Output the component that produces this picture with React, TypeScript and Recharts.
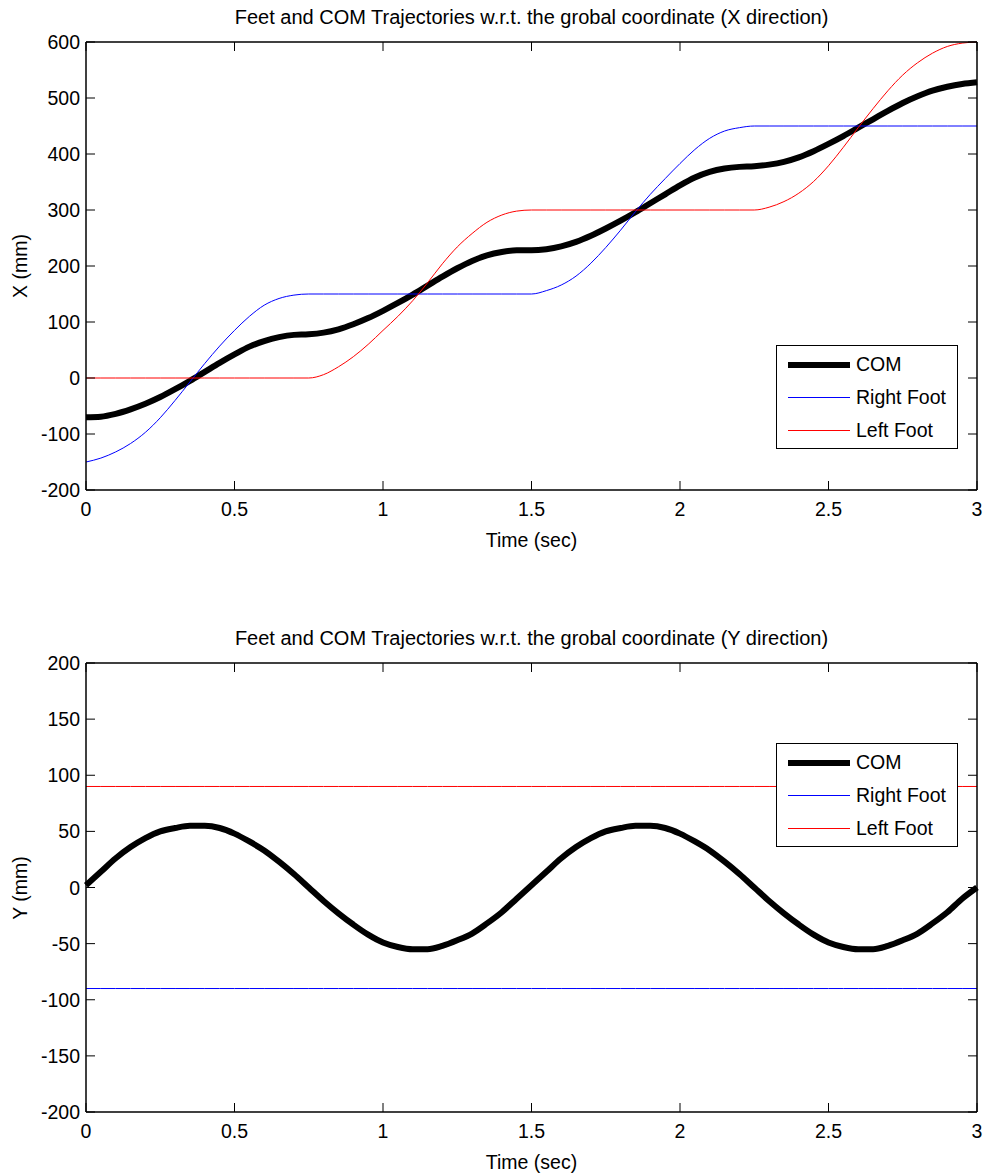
import { LineChart, Line, XAxis, YAxis, Legend } from 'recharts';

// sample times (sec)
const time = [
  0, 0.05, 0.1, 0.15, 0.2, 0.25, 0.3, 0.35, 0.4, 0.45,
  0.5, 0.55, 0.6, 0.65, 0.7, 0.75, 0.8, 0.85, 0.9, 0.95,
  1, 1.05, 1.1, 1.15, 1.2, 1.25, 1.3, 1.35, 1.4, 1.45,
  1.5, 1.55, 1.6, 1.65, 1.7, 1.75, 1.8, 1.85, 1.9, 1.95,
  2, 2.05, 2.1, 2.15, 2.2, 2.25, 2.3, 2.35, 2.4, 2.45,
  2.5, 2.55, 2.6, 2.65, 2.7, 2.75, 2.8, 2.85, 2.9, 2.95,
  3,
];

// X direction (mm)
const comX = [
  -70, -69, -64, -56, -46, -34, -20, -5, 11, 27,
  42, 56, 66, 73, 77, 78, 81, 87, 96, 107,
  120, 134, 149, 165, 181, 196, 209, 219, 225, 228,
  228, 230, 235, 243, 254, 267, 281, 296, 312, 328,
  344, 358, 368, 374, 377, 378, 381, 386, 394, 405,
  418, 432, 447, 462, 477, 491, 503, 513, 520, 525,
  528,
];
const rightFootX = [
  -150, -143, -132, -117, -97, -71, -40, -7, 26, 57,
  85, 110, 130, 142, 148, 150, 150, 150, 150, 150,
  150, 150, 150, 150, 150, 150, 150, 150, 150, 150,
  150, 156, 166, 182, 205, 233, 264, 297, 328, 356,
  383, 408, 428, 441, 447, 450, 450, 450, 450, 450,
  450, 450, 450, 450, 450, 450, 450, 450, 450, 450,
  450,
];
const leftFootX = [
  0, 0, 0, 0, 0, 0, 0, 0, 0, 0,
  0, 0, 0, 0, 0, 0, 6, 20, 38, 60,
  85, 110, 138, 170, 204, 234, 258, 278, 291, 298,
  300, 300, 300, 300, 300, 300, 300, 300, 300, 300,
  300, 300, 300, 300, 300, 300, 305, 315, 330, 351,
  379, 412, 447, 481, 513, 541, 563, 580, 592, 598,
  600,
];

// Y direction (mm)
const comY = [
  2, 14, 26, 36, 44, 50, 53, 55, 55, 53,
  48, 41, 33, 23, 12, 0, -12, -23, -33, -42,
  -49, -53, -55, -55, -52, -47, -41, -32, -22, -10,
  2, 14, 26, 36, 44, 50, 53, 55, 55, 53,
  48, 41, 33, 23, 12, 0, -12, -23, -33, -42,
  -49, -53, -55, -55, -52, -47, -41, -32, -22, -10,
  0,
];
const rightFootY = [
  -90, -90, -90, -90, -90, -90, -90, -90, -90, -90,
  -90, -90, -90, -90, -90, -90, -90, -90, -90, -90,
  -90, -90, -90, -90, -90, -90, -90, -90, -90, -90,
  -90, -90, -90, -90, -90, -90, -90, -90, -90, -90,
  -90, -90, -90, -90, -90, -90, -90, -90, -90, -90,
  -90, -90, -90, -90, -90, -90, -90, -90, -90, -90,
  -90,
];
const leftFootY = [
  90, 90, 90, 90, 90, 90, 90, 90, 90, 90,
  90, 90, 90, 90, 90, 90, 90, 90, 90, 90,
  90, 90, 90, 90, 90, 90, 90, 90, 90, 90,
  90, 90, 90, 90, 90, 90, 90, 90, 90, 90,
  90, 90, 90, 90, 90, 90, 90, 90, 90, 90,
  90, 90, 90, 90, 90, 90, 90, 90, 90, 90,
  90,
];

const timeTicks = [0, 0.5, 1, 1.5, 2, 2.5, 3];
const xDirTicks = [-200, -100, 0, 100, 200, 300, 400, 500, 600];
const yDirTicks = [-200, -150, -100, -50, 0, 50, 100, 150, 200];
const seriesOrder = ['COM', 'Right Foot', 'Left Foot'];

const xDirData = time.map((t, i) => ({ t, com: comX[i], right: rightFootX[i], left: leftFootX[i] }));
const yDirData = time.map((t, i) => ({ t, com: comY[i], right: rightFootY[i], left: leftFootY[i] }));

const FONT = '"Liberation Sans", Arial, Helvetica, sans-serif';
const FONT_SIZE = 19.5;
const W = 989;
const PLOT_LEFT = 86;
const PLOT_W = 891;
const TICK_LEN = 9;

const axisLine = { stroke: '#000', strokeWidth: 1.5 };

type Side = 'left' | 'right' | 'top' | 'bottom';

// MATLAB style ticks: short marks pointing into the plot box, labels only on left/bottom
function makeTick(side: Side, showLabel: boolean) {
  return (props: any) => {
    const { x, y, payload } = props;
    let mark;
    let label = null;
    if (side === 'left') {
      mark = <line x1={x} x2={x + TICK_LEN} y1={y} y2={y} stroke="#000" />;
      if (showLabel) {
        label = (
          <text x={x - 6} y={y} dy="0.36em" textAnchor="end" fill="#000" fontSize={FONT_SIZE} fontFamily={FONT}>
            {payload.value}
          </text>
        );
      }
    } else if (side === 'right') {
      mark = <line x1={x} x2={x - TICK_LEN} y1={y} y2={y} stroke="#000" />;
    } else if (side === 'bottom') {
      mark = <line x1={x} x2={x} y1={y} y2={y - TICK_LEN} stroke="#000" />;
      if (showLabel) {
        label = (
          <text x={x} y={y + 12} dy="0.72em" textAnchor="middle" fill="#000" fontSize={FONT_SIZE} fontFamily={FONT}>
            {payload.value}
          </text>
        );
      }
    } else {
      mark = <line x1={x} x2={x} y1={y} y2={y + TICK_LEN} stroke="#000" />;
    }
    return (
      <g>
        {mark}
        {label}
      </g>
    );
  };
}

function LegendBox({ payload }: { payload?: any[] }) {
  const items = [...(payload ?? [])].sort(
    (a, b) => seriesOrder.indexOf(a.value) - seriesOrder.indexOf(b.value)
  );
  return (
    <div
      style={{
        width: 182,
        height: 104,
        boxSizing: 'border-box',
        border: '1.5px solid #000',
        background: '#fff',
        paddingTop: 2,
        fontFamily: FONT,
        fontSize: FONT_SIZE,
        color: '#000',
      }}
    >
      {items.map((entry) => (
        <div key={entry.value} style={{ display: 'flex', alignItems: 'center', height: 33 }}>
          <span
            style={{
              marginLeft: 11,
              width: 62,
              height: 0,
              borderTop: `${entry.payload?.strokeWidth ?? 1}px solid ${entry.color}`,
            }}
          />
          <span style={{ marginLeft: 6 }}>{entry.value}</span>
        </div>
      ))}
    </div>
  );
}

interface PlotProps {
  data: { t: number; com: number; right: number; left: number }[];
  yTicks: number[];
  title: string;
  yLabel: string;
  top: number;
  height: number;
  marginTop: number;
  marginBottom: number;
  legendTop: number;
}

function TrajectoryPlot({ data, yTicks, title, yLabel, top, height, marginTop, marginBottom, legendTop }: PlotProps) {
  const domain = [yTicks[0], yTicks[yTicks.length - 1]];
  const plotTop = marginTop + 2;
  const plotBottom = height - marginBottom - 30;
  const plotMid = (plotTop + plotBottom) / 2;
  return (
    <div style={{ position: 'absolute', left: 0, top, width: W, height }}>
      <div
        style={{
          position: 'absolute',
          left: PLOT_LEFT,
          width: PLOT_W,
          top: plotTop - 35,
          lineHeight: '20px',
          fontSize: 20,
          textAlign: 'center',
          whiteSpace: 'nowrap',
        }}
      >
        {title}
      </div>
      <LineChart
        width={W}
        height={height}
        data={data}
        margin={{ top: marginTop, right: 10, bottom: marginBottom, left: 0 }}
      >
        <XAxis
          dataKey="t"
          type="number"
          domain={[0, 3]}
          ticks={timeTicks}
          interval={0}
          height={30}
          axisLine={axisLine}
          tickLine={false}
          tickSize={0}
          tickMargin={0}
          tick={makeTick('bottom', true)}
        />
        <XAxis
          xAxisId="top"
          orientation="top"
          dataKey="t"
          type="number"
          domain={[0, 3]}
          ticks={timeTicks}
          interval={0}
          height={2}
          axisLine={axisLine}
          tickLine={false}
          tickSize={0}
          tickMargin={0}
          tick={makeTick('top', false)}
          allowDataOverflow
        />
        <YAxis
          type="number"
          domain={domain}
          ticks={yTicks}
          interval={0}
          width={PLOT_LEFT}
          axisLine={axisLine}
          tickLine={false}
          tickSize={0}
          tickMargin={0}
          tick={makeTick('left', true)}
        />
        <YAxis
          yAxisId="right"
          orientation="right"
          type="number"
          domain={domain}
          ticks={yTicks}
          interval={0}
          width={2}
          axisLine={axisLine}
          tickLine={false}
          tickSize={0}
          tickMargin={0}
          tick={makeTick('right', false)}
          allowDataOverflow
        />
        <Line
          name="COM"
          dataKey="com"
          type="monotone"
          stroke="#000"
          strokeWidth={6}
          dot={false}
          activeDot={false}
          isAnimationActive={false}
        />
        <Line
          name="Right Foot"
          dataKey="right"
          type="monotone"
          stroke="#0000ff"
          strokeWidth={1}
          dot={false}
          activeDot={false}
          isAnimationActive={false}
        />
        <Line
          name="Left Foot"
          dataKey="left"
          type="monotone"
          stroke="#ff0000"
          strokeWidth={1}
          dot={false}
          activeDot={false}
          isAnimationActive={false}
        />
        <Legend
          layout="vertical"
          align="center"
          verticalAlign="middle"
          wrapperStyle={{ top: legendTop, left: 776, width: 182, height: 104 }}
          content={(props: any) => <LegendBox payload={props.payload} />}
        />
      </LineChart>
      <div
        style={{
          position: 'absolute',
          left: PLOT_LEFT,
          width: PLOT_W,
          top: plotBottom + 40,
          lineHeight: '20px',
          textAlign: 'center',
        }}
      >
        Time (sec)
      </div>
      <div
        style={{
          position: 'absolute',
          left: 20 - 100,
          width: 200,
          top: plotMid - 10,
          lineHeight: '20px',
          textAlign: 'center',
          transform: 'rotate(-90deg)',
        }}
      >
        {yLabel}
      </div>
    </div>
  );
}

export default function App() {
  return (
    <div
      style={{
        position: 'absolute',
        left: 0,
        top: 0,
        width: W,
        height: 1176,
        background: '#fff',
        fontFamily: FONT,
        fontSize: FONT_SIZE,
        color: '#000',
      }}
    >
      <TrajectoryPlot
        data={xDirData}
        yTicks={xDirTicks}
        title="Feet and COM Trajectories w.r.t. the grobal coordinate (X direction)"
        yLabel="X (mm)"
        top={0}
        height={560}
        marginTop={40}
        marginBottom={40}
        legendTop={345}
      />
      <TrajectoryPlot
        data={yDirData}
        yTicks={yDirTicks}
        title="Feet and COM Trajectories w.r.t. the grobal coordinate (Y direction)"
        yLabel="Y (mm)"
        top={600}
        height={576}
        marginTop={61}
        marginBottom={34}
        legendTop={143}
      />
    </div>
  );
}
